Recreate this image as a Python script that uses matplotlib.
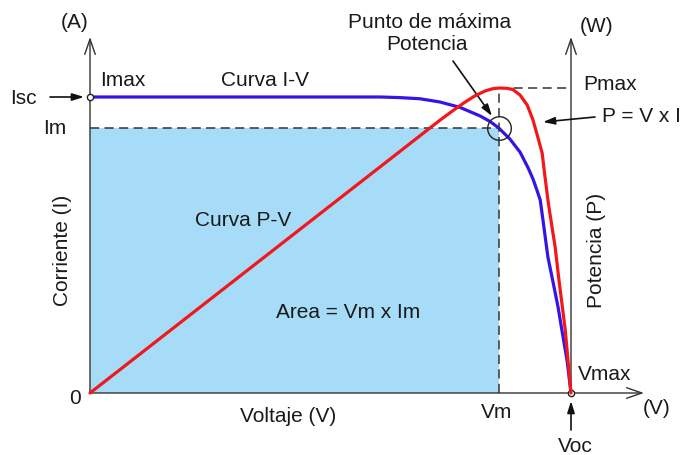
import matplotlib
matplotlib.use("Agg")
import matplotlib.pyplot as plt
import numpy as np

plt.rcParams['font.family'] = ['Liberation Sans', 'DejaVu Sans']

# ---- data (normalised: Voc = 1, Isc = 1, Pmax = 1) ----
V_iv = [0.0, 0.603, 0.644, 0.686, 0.728, 0.769, 0.811, 0.832, 0.850, 0.873, 0.894,
        0.911, 0.921, 0.929, 0.936, 0.942, 0.952, 0.963, 0.973, 0.981, 0.992, 1.0]
I_iv = [1.0, 1.0, 0.998, 0.994, 0.983, 0.965, 0.936, 0.917, 0.895, 0.858, 0.814,
        0.760, 0.723, 0.686, 0.652, 0.581, 0.459, 0.372, 0.291, 0.213, 0.108, 0.0]

V_pv = [0.0, 0.728, 0.759, 0.780, 0.800, 0.821, 0.838, 0.852, 0.867, 0.879, 0.894,
        0.909, 0.921, 0.931, 0.940, 0.946, 0.952, 0.956, 0.967, 0.975, 0.988, 1.0]
P_pv = [0.0, 0.895, 0.931, 0.954, 0.974, 0.990, 0.998, 1.0, 0.999, 0.995, 0.977,
        0.944, 0.895, 0.839, 0.787, 0.708, 0.633, 0.590, 0.479, 0.370, 0.207, 0.0]

Vm, Im, Isc, Voc, Pmax = 0.850, 0.895, 1.0, 1.0, 1.0

# ---- layout ----
W, H = 683, 455
X0, XV, Y0, YI, YP = 90, 571, 393, 97, 88
fig = plt.figure(figsize=(W / 100, H / 100), dpi=100)
ax = fig.add_axes([0, 0, 1, 1])
sx = XV - X0
sy = Y0 - YI
ax.set_xlim(-X0 / sx, (W - X0) / sx)
ax.set_ylim((Y0 - H) / sy, Y0 / sy)
ax.axis('off')
ax2 = ax.twinx()
ax2.set_position([0, 0, 1, 1])
sp = Y0 - YP
ax2.set_ylim((Y0 - H) / sp, Y0 / sp)
ax2.axis('off')

BLUE = '#3415e8'
RED = '#f2171b'
FILL = '#a6dcf7'
TXT = '#1a1a1a'
AXC = '#333333'

# shaded area
ax.fill_between([0, Vm], 0, Im, color=FILL, lw=0, zorder=0)

# dashed guides
dkw = dict(color='#333333', lw=1.1, dashes=(6, 3.5), zorder=2)
ax.plot([0, Vm], [Im, Im], **dkw)
ax2.plot([Vm, Vm], [0, Pmax], **dkw)
ax2.plot([Vm, Voc], [Pmax, Pmax], **dkw)

# axes with open arrowheads
def arrow(p0, p1, style, lw=1.0, color=AXC, ax_=ax):
    ax_.annotate('', xy=(p1[0], H - p1[1]), xytext=(p0[0], H - p0[1]),
                 xycoords='figure pixels', textcoords='figure pixels',
                 arrowprops=dict(arrowstyle=style, lw=lw, color=color,
                                 shrinkA=0, shrinkB=0), zorder=5)

open_head = '->,head_length=1.1,head_width=0.38'
arrow((X0, Y0), (X0, 37), open_head)
arrow((XV, Y0), (XV, 37), open_head)
arrow((X0, Y0), (644, Y0), open_head)

# curves
ax.plot(V_iv, I_iv, color=BLUE, lw=2.3, zorder=3,
        solid_capstyle='round', solid_joinstyle='round')
ax2.plot(V_pv, P_pv, color=RED, lw=2.3, zorder=3,
         solid_capstyle='round', solid_joinstyle='round')

# markers
ax.plot([0], [Isc], 'o', ms=4.5, mfc='white', mec='#222222', mew=1, zorder=6)
ax.plot([Voc], [0], 'o', ms=4.5, mfc='white', mec='#222222', mew=1, zorder=6)
ax.plot([Vm], [Im], 'o', ms=17, mfc='none', mec='#222222', mew=1, zorder=6)

# pointer arrows (filled)
fill_head = '-|>,head_length=0.7,head_width=0.22'
arrow((50, 97), (84, 97), fill_head, lw=1.2, color='#111111')
arrow((453, 61), (492, 116), fill_head, lw=1.2, color='#111111')
arrow((595, 117), (543, 122), fill_head, lw=1.2, color='#111111')
arrow((571, 430), (571, 401), fill_head, lw=1.2, color='#111111')

# texts
FS = 15

def txt(x, y, s, ha='left', va='center', rot=0):
    fig.text(x / W, 1 - y / H, s, ha=ha, va=va, rotation=rot,
             fontsize=FS, color=TXT)

txt(75, 22, '(A)', ha='center')
txt(597, 27, '(W)', ha='center')
txt(657, 409, '(V)', ha='center')
txt(10, 98, 'Isc')
txt(43, 129, 'Im')
txt(100, 80, 'Imax')
txt(81, 399, '0', ha='right')
txt(265, 80, 'Curva I-V', ha='center')
txt(243, 220, 'Curva P-V', ha='center')
txt(348, 312, 'Area = Vm x Im', ha='center')
txt(430, 22, 'Punto de máxima', ha='center')
txt(427, 44, 'Potencia', ha='center')
txt(583, 84, 'Pmax')
txt(602, 116, 'P = V x I')
txt(578, 375, 'Vmax')
txt(497, 412, 'Vm', ha='center')
txt(575, 447, 'Voc', ha='center')
txt(288, 417, 'Voltaje (V)', ha='center')
txt(62, 250, 'Corriente (I)', ha='center', rot=90)
txt(597, 250, 'Potencia (P)', ha='center', rot=90)

fig.savefig('out.png', dpi=100)
